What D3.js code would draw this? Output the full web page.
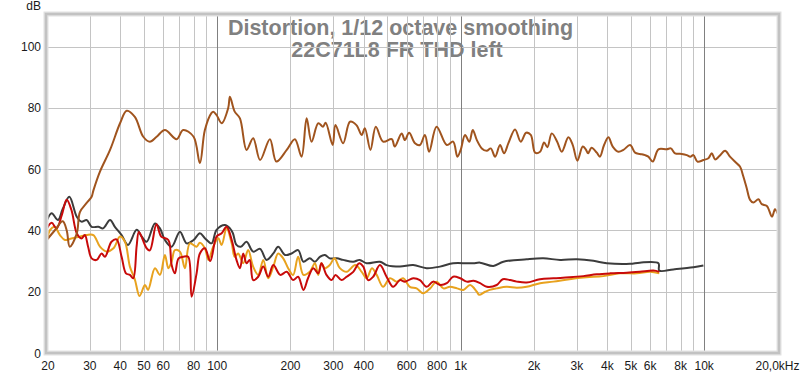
<!DOCTYPE html>
<html>
<head>
<meta charset="utf-8">
<script src="https://cdn.jsdelivr.net/npm/d3@7"></script>
<style>
  html, body { margin: 0; padding: 0; background: #fff; }
  #chart { width: 800px; height: 374px; }
  text { font-family: "Liberation Sans", Arial, sans-serif; }
</style>
</head>
<body>
<div id="chart"></div>
<script>
// series: [frequency Hz, level dB]
const fundamental = [
  [20,37],[21.5,40],[23.2,43],[24.1,40],[24.8,34.7],[26.5,39],[27.3,46],[29.1,49],[30.5,51],[31,53],
  [33,59.2],[36.3,66.3],[39.9,75],[42.5,79.1],[45.9,77.1],[49.7,70.6],[52.9,69],[56.4,70.6],[61,72.8],
  [68.1,69.8],[72.5,72.8],[80,70.6],[84.9,62],[89,72.8],[94.8,78.4],[96.3,78.8],[99.4,77.7],[104.3,75],
  [111,80],[112.8,83.7],[118,78.8],[124,76.6],[132,66.3],[140.5,70.1],[150,63],[164.6,69.8],[175,62.5],
  [193,66.3],[208.5,69.8],[222,64.1],[233,76.6],[244,69],[260,75],[272,73.9],[279,75.2],[298,67.9],
  [306,74.4],[329,68.5],[351,75.5],[373,74.4],[392,71.2],[404,73.4],[426,66.3],[448,73.9],[480,69],
  [521,69.8],[536,67.4],[572,71.7],[590,69.5],[614,71.9],[649,68.5],[680,67.9],[713,71.2],[742,65.7],
  [796,73.9],[877,67.9],[931,69],[969,64.1],[1000,66.3],[1042,71.2],[1085,69],[1121,72.8],[1165,69.5],
  [1221,66.8],[1280,66],[1329,66.8],[1385,64.1],[1451,67.9],[1507,65.2],[1570,68.5],[1672,73],[1764,69],
  [1856,71.9],[1940,71.2],[2021,65.4],[2118,65.7],[2200,68.7],[2270,67.2],[2366,71.7],[2490,69],
  [2601,65.7],[2768,70.4],[2885,67.9],[3014,62.8],[3170,67.4],[3263,66.5],[3336,65.2],[3445,67],
  [3622,65.4],[3730,64.1],[3880,67.9],[4042,70.4],[4210,67.4],[4444,65.7],[4658,66.3],[4962,67.9],
  [5202,65.4],[5438,65],[5717,64.6],[5898,64.1],[6149,62.5],[6487,66.5],[7020,66.5],[7295,66.8],
  [7590,65.2],[8091,65],[8484,64.6],[8767,64.1],[9035,64.6],[9380,62.5],[9925,63],[10405,63.6],
  [10745,65.2],[11087,63.2],[11545,64.3],[12183,66],[12760,64.1],[13519,62.1],[14041,60.8],[14480,57.6],
  [14950,53.8],[15431,50],[15925,49.1],[16700,50.2],[17230,48.6],[18085,48],[18990,44.5],[19530,46.9],
  [20000,45.6]
];

const thd = [
  [20,43.4],[20.9,45.6],[22.2,43.4],[23.2,47],[24.7,51],[26.5,44.5],[27.7,42.9],[29.1,43.4],[30.5,41.2],
  [32.5,41.2],[34,40.7],[36.3,43.4],[38,41.2],[40.5,38.5],[43,35.3],[46.7,40.2],[49,38],[51.3,36.3],
  [55.5,42.3],[58.2,40.7],[61,36.9],[65,34.7],[70.3,39.6],[74.9,35.8],[80,36.9],[84.9,39.1],[89,37.5],
  [94.8,35.8],[99.4,40.2],[107.6,41.8],[112.8,40.7],[116,39.1],[120,35.3],[125,34.7],[132,36.3],
  [140.5,33.1],[150,34],[159.5,30.4],[170,32.5],[178,34.7],[190,32],[202,32.5],[215,33.6],[226,29.8],
  [240,30.9],[252,29.8],[264,31.4],[277,32],[290,30.9],[310,30.9],[329,30.4],[362,29.8],[385,30.4],
  [411,29.3],[466,29.8],[496,28.7],[563,28.2],[638,28.7],[724,27.7],[822,28.2],[931,29.3],[1059,29.3],
  [1128,29.3],[1201,29.5],[1362,28.4],[1497,29.8],[1866,30.6],[2184,30.9],[2560,30.4],[3000,30.6],
  [3507,30.1],[3980,29.3],[4962,29.1],[5438,29.5],[6487,29.3],[6540,26.9],[7467,27.3],[9035,28],
  [9925,28.6]
];

const h2 = [
  [20,40.7],[20.9,42.5],[21.9,40.7],[23,45],[24.1,50],[25.2,46.7],[26.5,39.1],[27.7,37.4],[28.6,38.5],
  [29.5,34.7],[30.5,30.9],[32,30.4],[33.5,32.5],[34.6,31.4],[36.8,36.3],[38.6,37.1],[40.5,31.4],[42.2,26],
  [43.8,25.5],[45.2,24.4],[46.7,35],[47.7,39.5],[51.3,34.2],[52.9,33.5],[56.3,42],[58.9,38],[63,36.9],
  [65,28.7],[67,26],[69.4,30.9],[72.5,31.4],[76,31.4],[78.5,18.4],[82.3,26],[84.9,32.5],[89,34.2],
  [93.6,30],[99.4,38],[104.3,39.1],[109.3,41.2],[114.7,36.9],[120,30.4],[124,27.7],[127.9,32.5],
  [132,29.3],[136,30.4],[140.5,23.8],[147.4,24.9],[154.6,28.2],[162,24.9],[170,28.7],[181.5,25.5],
  [193,26.5],[205,23.8],[215,24.9],[226,20.6],[236,24.4],[248,27.7],[260,26],[268,29.3],[281,25.5],
  [295,23.8],[306,25.5],[324,23.8],[340,24.9],[362,26.5],[383,29.3],[398,28.2],[417,23.8],[437,24.9],
  [466,28.7],[496,24.9],[528,21.6],[563,23.8],[590,23.3],[638,24.4],[680,23.8],[724,21.6],[770,23.3],
  [822,22.2],[877,22.8],[931,24.9],[995,24.4],[1059,23.3],[1128,23.6],[1201,22.8],[1280,21.6],
  [1406,22.2],[1489,24.1],[1595,23.8],[1700,23.3],[1866,23],[2118,24.1],[2402,24.4],[2800,24.7],
  [3190,25.1],[3622,25.7],[4107,26],[4810,26.2],[5438,26.5],[6185,26.9],[6540,26.5]
];

const h3 = [
  [20,36.9],[20.6,40.2],[21.5,41.2],[22.6,38.5],[23.7,36.9],[25.2,37.4],[27.3,38],[29.1,38.5],[31,38.5],
  [33,34.7],[35.1,33.1],[37.5,34.2],[39.9,38],[41.8,36.3],[43.8,28.2],[45.9,24],[48,18.6],[50.5,22.2],
  [52,20.6],[55.5,27.7],[58.2,25.5],[61,32],[63,27.7],[65,29.8],[67,33.6],[70.3,33.1],[73.7,27.7],
  [77.2,35.8],[82.3,34.7],[84.9,36],[89,34.2],[92,30.4],[96.3,34.7],[101,37.5],[104.3,35.3],[109.3,40.7],
  [114.7,35.8],[118,31.4],[122,32.5],[127.9,29.3],[134,33.6],[140.5,28.2],[147.4,25.5],[154.6,30.4],
  [162,24.4],[170,28.2],[178,32.5],[186.7,30.9],[195.6,27.7],[205,25.5],[215,31.4],[226,25.5],[240,26.5],
  [252,29.3],[260,25.5],[268,29.3],[277,27.7],[290,28.7],[303,30.9],[319,27.7],[340,26.5],[369,28.7],
  [392,26.5],[411,24.4],[432,27.7],[452,25.5],[480,21.6],[512,24.4],[546,23.3],[580,24.4],[618,21.6],
  [659,21.1],[701,19.5],[749,21.1],[796,23.3],[849,21.1],[903,21.6],[966,21.1],[1026,20.6],[1093,22.2],
  [1165,20],[1190,19],[1260,20],[1315,20.6],[1406,21.1],[1543,21.6],[1700,21.3],[1866,21.6],[2118,22.8],
  [2402,23.3],[2800,24.1],[3284,24.7],[3853,25.1],[4510,26],[5286,26],[6000,26.5],[6540,26]
];

// axis ticks
const yTicks = [0, 20, 40, 60, 80, 100];
const xGrid = [30,40,50,60,70,80,90,200,300,400,500,600,700,800,900,2000,3000,4000,5000,6000,7000,8000,9000];
const xDecades = [100, 1000, 10000];
const xLabels = [
  [20,"20"],[30,"30"],[40,"40"],[50,"50"],[60,"60"],[80,"80"],[100,"100"],[200,"200"],[300,"300"],
  [400,"400"],[600,"600"],[800,"800"],[1000,"1k"],[2000,"2k"],[3000,"3k"],[4000,"4k"],[5000,"5k"],
  [6000,"6k"],[8000,"8k"],[10000,"10k"],[20000,"20,0kHz"]
];
const titleLines = ["Distortion, 1/12 octave smoothing", "22C71L8 FR THD left"];

const width = 800, height = 374;
const plot = { left: 46, right: 779, top: 14, bottom: 353 };

const svg = d3.select("#chart").append("svg")
  .attr("width", width)
  .attr("height", height);

const x = d3.scaleLog().domain([20, 20000]).range([47, 777.5]);
const y = d3.scaleLinear().domain([0, 100]).range([353, 46.7]);

// title sits under the grid lines
svg.append("g").selectAll("text")
  .data(titleLines)
  .enter().append("text")
  .attr("x", (d, i) => (i === 0 ? 400.5 : 397))
  .attr("y", (d, i) => 34.5 + i * 22.5)
  .attr("text-anchor", "middle")
  .attr("font-size", "21.5px")
  .attr("font-weight", "bold")
  .attr("fill", "#808080")
  .text((d) => d);

// grid
const grid = svg.append("g");
grid.selectAll(".hgrid")
  .data(yTicks.filter((d) => d > 0))
  .enter().append("line")
  .attr("x1", plot.left).attr("x2", plot.right)
  .attr("y1", (d) => Math.round(y(d)) + 0.5).attr("y2", (d) => Math.round(y(d)) + 0.5)
  .attr("stroke", "#c4c4c4").attr("stroke-width", 1);

grid.selectAll(".vgrid")
  .data(xGrid)
  .enter().append("line")
  .attr("x1", (d) => Math.round(x(d)) + 0.5).attr("x2", (d) => Math.round(x(d)) + 0.5)
  .attr("y1", plot.top).attr("y2", plot.bottom)
  .attr("stroke", "#c4c4c4").attr("stroke-width", 1);

grid.selectAll(".dgrid")
  .data(xDecades)
  .enter().append("line")
  .attr("x1", (d) => Math.round(x(d)) + 0.5).attr("x2", (d) => Math.round(x(d)) + 0.5)
  .attr("y1", plot.top).attr("y2", plot.bottom)
  .attr("stroke", "#808080").attr("stroke-width", 1);

// curves
const line = d3.line()
  .x((d) => x(d[0]))
  .y((d) => y(d[1]))
  .curve(d3.curveCatmullRom.alpha(0.5));

const series = [
  { data: thd, color: "#3c3c3c" },
  { data: h3, color: "#e8a21e" },
  { data: h2, color: "#c80a0a" },
  { data: fundamental, color: "#a0541e" },
];

svg.append("g").selectAll("path")
  .data(series)
  .enter().append("path")
  .attr("d", (d) => line(d.data))
  .attr("fill", "none")
  .attr("stroke", (d) => d.color)
  .attr("stroke-width", 2)
  .attr("stroke-linejoin", "round");

// frame
svg.append("rect")
  .attr("x", plot.left).attr("y", plot.top)
  .attr("width", plot.right - plot.left).attr("height", plot.bottom - plot.top)
  .attr("fill", "none").attr("stroke", "#e2e2e2").attr("stroke-width", 5);
svg.append("rect")
  .attr("x", plot.left).attr("y", plot.top)
  .attr("width", plot.right - plot.left).attr("height", plot.bottom - plot.top)
  .attr("fill", "none").attr("stroke", "#c2c2c2").attr("stroke-width", 2.5);

// axis labels
svg.append("g").selectAll("text")
  .data(yTicks)
  .enter().append("text")
  .attr("x", 41)
  .attr("y", (d) => y(d) + 4.5)
  .attr("text-anchor", "end")
  .attr("font-size", "12px")
  .attr("fill", "#1a1a1a")
  .text((d) => d);

svg.append("text")
  .attr("x", 41).attr("y", 10)
  .attr("text-anchor", "end")
  .attr("font-size", "12px")
  .attr("fill", "#1a1a1a")
  .text("dB");

svg.append("g").selectAll("text")
  .data(xLabels)
  .enter().append("text")
  .attr("x", (d) => (d[0] === 20 ? x(d[0]) + 1 : x(d[0])))
  .attr("y", 370)
  .attr("text-anchor", "middle")
  .attr("font-size", "12px")
  .attr("fill", "#1a1a1a")
  .text((d) => d[1]);
</script>
</body>
</html>
